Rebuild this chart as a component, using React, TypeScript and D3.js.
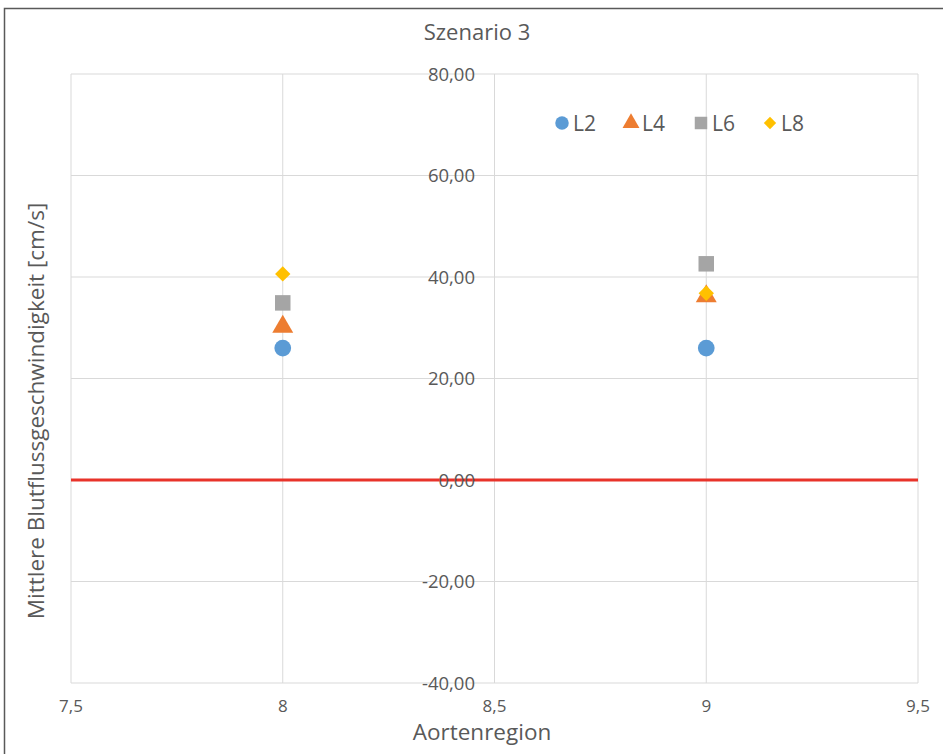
import React from "react";
import * as d3 from "d3";

const categories = [8, 9];
const seriesNames = ["L2", "L4", "L6", "L8"];
const L2 = [26.0, 26.0];
const L4 = [30.2, 36.2];
const L6 = [34.9, 42.6];
const L8 = [40.6, 36.8];
const seriesValues = [L2, L4, L6, L8];
const colors = ["#5b9bd5", "#ed7d31", "#a5a5a5", "#ffc000"];
const symbols = [d3.symbolCircle, d3.symbolTriangle, d3.symbolSquare, d3.symbolDiamond2];
const symbolSizes = [220, 190, 240, 150];
const xTicks = [7.5, 8, 8.5, 9, 9.5];
const yTicks = [-40, -20, 0, 20, 40, 60, 80];

const W = 943, H = 754;
const left = 71, right = 918, top = 74, bottom = 683;
const font = "'Open Sans', 'Noto Sans', sans-serif";
const fmtY = (v: number) => d3.format(".2f")(v).replace(".", ",").replace("\u2212", "-");
const fmtX = (v: number) => String(v).replace(".", ",");

export default function App() {
  const x = d3.scaleLinear().domain([7.5, 9.5]).range([left, right]);
  const y = d3.scaleLinear().domain([-40, 80]).range([bottom, top]);
  const legendX = [562, 631, 701, 770];
  return (
    <svg width={W} height={H} style={{ position: "absolute", left: 0, top: 0 }}>
      <rect x={0} y={0} width={W} height={H} fill="#fff" />
      <rect x={4.5} y={8.5} width={W + 10} height={H + 10} fill="#fff" stroke="#595959" strokeWidth={1.5} />
      <text x={477} y={40} textAnchor="middle" fontFamily={font} fontSize={22} fill="#595959">Szenario 3</text>
      {yTicks.map((t) => (
        <line key={"gy" + t} x1={left} x2={right} y1={y(t)} y2={y(t)} stroke="#d9d9d9" strokeWidth={1} />
      ))}
      {xTicks.map((t) => (
        <line key={"gx" + t} x1={x(t)} x2={x(t)} y1={top} y2={bottom} stroke="#d9d9d9" strokeWidth={1} />
      ))}
      <line x1={left} x2={right} y1={y(0)} y2={y(0)} stroke="#e8332a" strokeWidth={3} />
      {yTicks.map((t) => (
        <text key={"ty" + t} x={475} y={y(t) + 6.5} textAnchor="end" fontFamily={font} fontSize={18.5} fill="#595959">{fmtY(t)}</text>
      ))}
      {xTicks.map((t) => (
        <text key={"tx" + t} x={x(t)} y={712} textAnchor="middle" fontFamily={font} fontSize={17} fill="#595959">{fmtX(t)}</text>
      ))}
      <text x={482} y={740} textAnchor="middle" fontFamily={font} fontSize={22.5} fill="#595959">Aortenregion</text>
      <text transform={`translate(44,411) rotate(-90)`} textAnchor="middle" fontFamily={font} fontSize={22.5} fill="#595959">Mittlere Blutflussgeschwindigkeit [cm/s]</text>
      {seriesValues.map((vals, si) => (
        <g key={"s" + si}>
          {vals.map((v, i) => (
            <path key={i} transform={`translate(${x(categories[i])},${y(v)})`} d={d3.symbol(symbols[si], symbolSizes[si])() || ""} fill={colors[si]} />
          ))}
        </g>
      ))}
      {seriesNames.map((n, si) => (
        <g key={"l" + si}>
          <path transform={`translate(${legendX[si]},${123})`} d={d3.symbol(symbols[si], symbolSizes[si] * 0.65)() || ""} fill={colors[si]} />
          <text x={legendX[si] + 11} y={131} fontFamily={font} fontSize={21} fill="#595959">{n}</text>
        </g>
      ))}
    </svg>
  );
}
